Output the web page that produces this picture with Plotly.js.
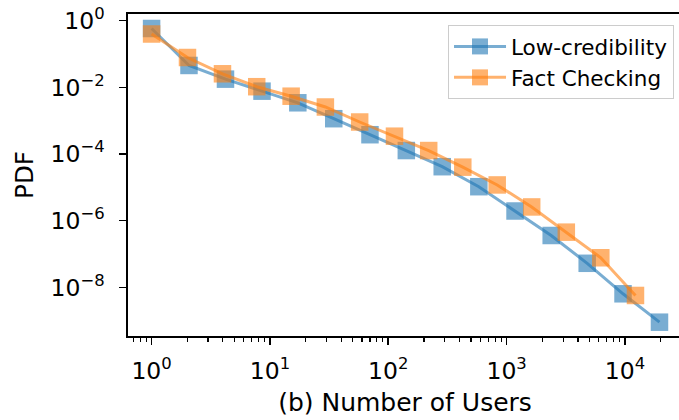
<!DOCTYPE html>
<html>
<head>
<meta charset="utf-8">
<script src="https://cdn.plot.ly/plotly-3.0.1.min.js"></script>
<style>html,body{margin:0;padding:0;background:#fff;overflow:hidden;width:679px;height:420px;}</style>
</head>
<body>
<div id="chart" style="width:682px;height:420px;"></div>
<script>
// Low-credibility series
var lowCredX = [1, 2.07, 4.21, 8.57, 17.2, 34.6, 70.0, 142, 285.5, 582, 1177, 2379, 4793, 9619, 19560];
var lowCredY = [0.582, 0.0453, 0.0176, 0.00767, 0.00344, 0.001146, 3.79e-4, 1.27e-4, 4.16e-5, 1.045e-5, 1.95e-6, 3.59e-7, 5.26e-8, 6.40e-9, 9.0e-10];
// Fact Checking series
var factX = [1, 2.01, 3.97, 7.73, 15.1, 29.4, 57.3, 112.8, 219.5, 426, 832, 1628, 3192, 6245, 12260];
var factY = [0.398, 0.0785, 0.0255, 0.01045, 0.00542, 0.00257, 9.12e-4, 3.42e-4, 1.27e-4, 4.03e-5, 1.18e-5, 2.58e-6, 4.52e-7, 7.71e-8, 5.70e-9];

var seriesNames = ['Low-credibility', 'Fact Checking'];

var xTickVals = [1, 10, 100, 1000, 10000];
var xTickText = ['10<sup>0</sup>', '10<sup>1</sup>', '10<sup>2</sup>', '10<sup>3</sup>', '10<sup>4</sup>'];
var yTickVals = [1, 1e-2, 1e-4, 1e-6, 1e-8];
var yTickText = ['10<sup>0</sup>', '10<sup>\u22122</sup>', '10<sup>\u22124</sup>', '10<sup>\u22126</sup>', '10<sup>\u22128</sup>'];

var xMinor = [];
for (var d = -1; d <= 4; d++) {
  for (var m = 2; m <= 9; m++) {
    xMinor.push(m * Math.pow(10, d));
  }
}

var font = 'DejaVu Sans, sans-serif';

var traces = [
  {
    x: lowCredX, y: lowCredY, name: seriesNames[0], type: 'scatter', mode: 'lines+markers',
    line: {color: 'rgba(31,119,180,0.6)', width: 3},
    marker: {symbol: 'square', size: 17.5, color: 'rgba(31,119,180,0.6)', line: {width: 0}}
  },
  {
    x: factX, y: factY, name: seriesNames[1], type: 'scatter', mode: 'lines+markers',
    line: {color: 'rgba(255,127,14,0.6)', width: 3},
    marker: {symbol: 'square', size: 17.5, color: 'rgba(255,127,14,0.6)', line: {width: 0}}
  }
];

var layout = {
  width: 682, height: 420,
  margin: {l: 128, r: 0, t: 14, b: 84},
  paper_bgcolor: '#fff', plot_bgcolor: '#fff',
  font: {family: font, size: 20, color: '#000'},
  showlegend: true,
  legend: {
    x: 0.9856, xanchor: 'right', y: 0.966, yanchor: 'top',
    bgcolor: 'rgba(255,255,255,0.8)', bordercolor: '#cccccc', borderwidth: 1,
    font: {family: font, size: 21.5, color: '#000'},
    itemwidth: 52,
    tracegroupgap: 0
  },
  xaxis: {
    type: 'log', range: [-0.1994, 4.4816],
    showgrid: false, zeroline: false,
    showline: true, linecolor: '#000', linewidth: 1.6, mirror: true,
    ticks: 'outside', ticklen: 7, tickwidth: 1.6, tickcolor: '#000',
    tickmode: 'array', tickvals: xTickVals, ticktext: xTickText,
    ticklabelstandoff: 6,
    tickfont: {family: font, size: 23.5, color: '#000'},
    minor: {tickmode: 'array', tickvals: xMinor, ticks: 'outside', ticklen: 4, tickwidth: 1.2, tickcolor: '#000', showgrid: false},
    title: {text: '(b) Number of Users', font: {family: font, size: 25, color: '#000'}, standoff: 10},
    automargin: false
  },
  yaxis: {
    type: 'log', range: [-9.46, 0.2],
    showgrid: false, zeroline: false,
    showline: true, linecolor: '#000', linewidth: 1.6, mirror: true,
    ticks: 'outside', ticklen: 7, tickwidth: 1.6, tickcolor: '#000',
    tickmode: 'array', tickvals: yTickVals, ticktext: yTickText,
    ticklabelstandoff: 10,
    tickfont: {family: font, size: 23.5, color: '#000'},
    title: {text: 'PDF', font: {family: font, size: 24.5, color: '#000'}, standoff: 10},
    automargin: false
  }
};

Plotly.newPlot('chart', traces, layout, {displayModeBar: false, staticPlot: true});
</script>
</body>
</html>
